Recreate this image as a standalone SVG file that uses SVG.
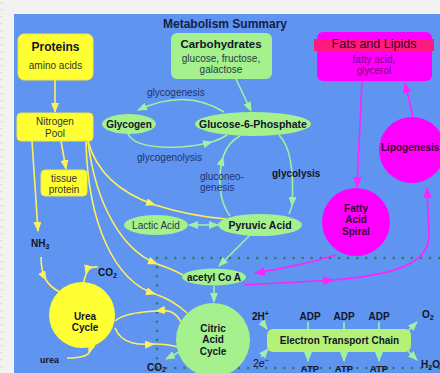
<svg xmlns="http://www.w3.org/2000/svg" width="440" height="373" viewBox="0 0 440 373">
<style>
text{font-family:"Liberation Sans",Arial,sans-serif}
.b{font-weight:bold}
.dk{fill:#141428}
.nv{fill:#22336e}
.yl{fill:none;stroke:#fff05a;stroke-width:1.6}
.gr{fill:none;stroke:#a2f0a0;stroke-width:1.6}
.mg{fill:none;stroke:#ff22ff;stroke-width:1.6}
.dot{fill:none;stroke:#2e7d52;stroke-width:2.4;stroke-dasharray:0.1 9;stroke-linecap:round}
.ybox{fill:#ffff33;stroke:#f4e840;stroke-width:1}
.gfill{fill:#a4f18e}
.mfill{fill:#ff00ff}
</style>
<defs>
<marker id="ay" viewBox="0 0 10 8" refX="9" refY="4" markerWidth="10" markerHeight="8" markerUnits="userSpaceOnUse" orient="auto-start-reverse"><path d="M0,0 L10,4 L0,8 z" fill="#fff05a"/></marker>
<marker id="ag" viewBox="0 0 10 8" refX="9" refY="4" markerWidth="10" markerHeight="8" markerUnits="userSpaceOnUse" orient="auto-start-reverse"><path d="M0,0 L10,4 L0,8 z" fill="#a2f0a0"/></marker>
<marker id="am" viewBox="0 0 10 8" refX="9" refY="4" markerWidth="11" markerHeight="9" markerUnits="userSpaceOnUse" orient="auto-start-reverse"><path d="M0,0 L10,4 L0,8 z" fill="#ff22ff"/></marker>
</defs>
<rect x="0" y="0" width="440" height="373" fill="#f2f2f2"/>
<line x1="1.5" y1="2" x2="1.5" y2="373" stroke="#bfe3bf" stroke-width="1.5" stroke-dasharray="1.5 5.5"/>
<rect x="14" y="14" width="426" height="359" fill="#5f94f0"/>
<text x="225" y="28" text-anchor="middle" class="b" font-size="12" fill="#15204a">Metabolism Summary</text>

<g id="dotted">
<path class="dot" d="M157,258 L440,258"/>
<path class="dot" d="M157,258 L157,373"/>
<path class="dot" d="M157,368 L440,368"/>
</g>

<g id="connectors">
<path class="yl" d="M55,80 L55,112" marker-end="url(#ay)"/>
<path class="yl" d="M61,141 L66,169" marker-end="url(#ay)"/>
<path class="yl" d="M32,141 L38,231" marker-end="url(#ay)"/>
<path class="yl" d="M88,141 Q100,186 155,205" marker-end="url(#ay)"/>
<path class="yl" d="M155,205 Q190,216 226,219"/>
<path class="yl" d="M88,142 C96,205 122,250 157,264" marker-end="url(#ay)"/>
<path class="yl" d="M157,264 Q172,269 183,275"/>
<path class="yl" d="M86,142 C88,225 115,281 155,294" marker-end="url(#ay)"/>
<path class="yl" d="M155,294 Q173,300 187,313"/>
<path class="yl" d="M41,257 Q41,271 46,280" marker-end="url(#ay)"/>
<path class="yl" d="M46,280 Q51,288 60,292"/>
<path class="yl" d="M98,267 Q88,266 86,274" marker-end="url(#ay)"/>
<path class="yl" d="M86,274 L83,284"/>
<path class="yl" d="M92,344 L89,353" marker-end="url(#ay)"/>
<path class="yl" d="M89,353 Q85,358 67,358"/>
<path class="yl" d="M183,326 C176,309 166,310 156,311" marker-end="url(#ay)"/>
<path class="yl" d="M156,311 C135,312 122,315 115,321"/>
<path class="yl" d="M115,328 C122,345 140,345 154,344" marker-end="url(#ay)"/>
<path class="yl" d="M154,344 Q168,344 178,347"/>

<path class="gr" d="M236,79 L251,111" marker-end="url(#ag)"/>
<path class="gr" d="M224,112 Q186,88 138,110" marker-end="url(#ag)"/>
<path class="gr" d="M128,134 C136,150 180,150 212,142" marker-end="url(#ag)"/>
<path class="gr" d="M212,142 Q221,139 227,135"/>
<path class="gr" d="M230,216 C218,200 218,175 223,157" marker-end="url(#ag)"/>
<path class="gr" d="M223,157 Q228,142 240,136"/>
<path class="gr" d="M279,135 C292,148 294,175 292,206" marker-end="url(#ag)"/>
<path class="gr" d="M292,206 L289,214"/>
<path class="gr" d="M189,225 L218,225" marker-start="url(#ag)" marker-end="url(#ag)"/>
<path class="gr" d="M250,235 L219,266" marker-end="url(#ag)"/>
<path class="gr" d="M214,286 L214,302" marker-end="url(#ag)"/>
<path class="gr" d="M183,350 L166,359" marker-end="url(#ag)"/>
<path class="gr" d="M261,321 L267,329" marker-end="url(#ag)"/>
<path class="gr" d="M261,357 L268,349" marker-end="url(#ag)"/>
<path class="gr" d="M308,322 L308,330 M344,322 L344,330 M379,322 L379,330"/>
<path class="gr" d="M308,352 L308,361" marker-end="url(#ag)"/>
<path class="gr" d="M344,352 L344,361" marker-end="url(#ag)"/>
<path class="gr" d="M379,352 L379,361" marker-end="url(#ag)"/>
<path class="gr" d="M408,331 L417,322" marker-end="url(#ag)"/>
<path class="gr" d="M408,351 L417,360" marker-end="url(#ag)"/>

<path class="mg" d="M362,81 L357,187" marker-end="url(#am)"/>
<path class="mg" d="M413,117 L405,83" marker-end="url(#am)"/>
<path class="mg" d="M336,255 Q300,266 255,273" marker-end="url(#am)"/>
<path class="mg" d="M244,285 L333,280" marker-end="url(#am)"/>
<path class="mg" d="M333,280 C380,276 430,268 429,235 L427,188" marker-end="url(#am)"/>
</g>

<g id="proteins">
<rect class="ybox" x="18" y="34" width="75" height="46" rx="6"/>
<text x="55.5" y="51" text-anchor="middle" class="b dk" font-size="12">Proteins</text>
<text x="55.5" y="69" text-anchor="middle" font-size="10" fill="#333">amino acids</text>
</g>
<g id="nitrogen-pool">
<rect class="ybox" x="17" y="113" width="76" height="28" rx="4"/>
<text x="55" y="125" text-anchor="middle" font-size="10" fill="#333">Nitrogen</text>
<text x="55" y="137" text-anchor="middle" font-size="10" fill="#333">Pool</text>
</g>
<g id="tissue-protein">
<rect class="ybox" x="41" y="170" width="46" height="26" rx="4"/>
<text x="64" y="182" text-anchor="middle" font-size="10" fill="#333">tissue</text>
<text x="64" y="193" text-anchor="middle" font-size="10" fill="#333">protein</text>
</g>
<g id="nh3"><text x="31" y="247" class="b dk" font-size="10">NH<tspan font-size="7" dy="2">3</tspan></text></g>
<g id="carbohydrates">
<rect class="gfill" x="171" y="33" width="101" height="46" rx="6"/>
<text x="221" y="48" text-anchor="middle" class="b dk" font-size="11.5">Carbohydrates</text>
<text x="221" y="62" text-anchor="middle" font-size="10" fill="#2a3a40">glucose, fructose,</text>
<text x="221" y="73" text-anchor="middle" font-size="10" fill="#2a3a40">galactose</text>
</g>
<g id="fats">
<rect class="mfill" x="317" y="32" width="115" height="49" rx="6"/>
<rect x="314" y="39" width="120" height="12" fill="#ff1a80"/>
<text x="374" y="48" text-anchor="middle" font-size="12.5" fill="#3a0030">Fats and Lipids</text>
<text x="374" y="63" text-anchor="middle" font-size="10" fill="#7a0a7a">fatty acid,</text>
<text x="374" y="74" text-anchor="middle" font-size="10" fill="#7a0a7a">glycerol</text>
</g>
<g id="glycogen">
<ellipse class="gfill" cx="129" cy="124" rx="27" ry="10"/>
<text x="129" y="128" text-anchor="middle" class="b dk" font-size="10">Glycogen</text>
</g>
<g id="g6p">
<ellipse class="gfill" cx="253" cy="124" rx="58" ry="12"/>
<text x="253" y="128" text-anchor="middle" class="b dk" font-size="10.5">Glucose-6-Phosphate</text>
</g>
<g id="labels">
<text x="147" y="96" font-size="10" class="nv">glycogenesis</text>
<text x="137" y="161" font-size="10" class="nv">glycogenolysis</text>
<text x="200" y="180" font-size="10" class="nv">gluconeo-</text>
<text x="200" y="191" font-size="10" class="nv">genesis</text>
<text x="272" y="177" font-size="10" class="b dk">glycolysis</text>
</g>
<g id="lactic">
<ellipse class="gfill" cx="156" cy="225" rx="32" ry="10"/>
<text x="156" y="229" text-anchor="middle" font-size="10" fill="#2a3a40">Lactic Acid</text>
</g>
<g id="pyruvic">
<ellipse class="gfill" cx="260" cy="225" rx="42" ry="11"/>
<text x="260" y="229" text-anchor="middle" class="b dk" font-size="10.5">Pyruvic Acid</text>
</g>
<g id="lipogenesis">
<circle class="mfill" cx="412" cy="150" r="33"/>
<text x="381" y="151" class="b" font-size="10" fill="#3a0030">Lipogenesis</text>
</g>
<g id="fatty-acid-spiral">
<circle class="mfill" cx="356" cy="222" r="34"/>
<text x="356" y="212" text-anchor="middle" class="b" font-size="10" fill="#3a0030">Fatty</text>
<text x="356" y="223" text-anchor="middle" class="b" font-size="10" fill="#3a0030">Acid</text>
<text x="356" y="235" text-anchor="middle" class="b" font-size="10" fill="#3a0030">Spiral</text>
</g>
<g id="acetyl">
<ellipse class="gfill" cx="214" cy="277" rx="32" ry="8.5"/>
<text x="214" y="281" text-anchor="middle" class="b dk" font-size="10">acetyl Co A</text>
</g>
<g id="citric">
<circle class="gfill" cx="213" cy="340" r="37"/>
<text x="213" y="332" text-anchor="middle" class="b dk" font-size="10">Citric</text>
<text x="213" y="343" text-anchor="middle" class="b dk" font-size="10">Acid</text>
<text x="213" y="355" text-anchor="middle" class="b dk" font-size="10">Cycle</text>
</g>
<g id="urea-cycle">
<circle cx="82" cy="315" r="33" fill="#ffff33"/>
<text x="85" y="320" text-anchor="middle" class="b dk" font-size="10">Urea</text>
<text x="85" y="331" text-anchor="middle" class="b dk" font-size="10">Cycle</text>
</g>
<g id="co2-urea"><text x="98" y="276" class="b dk" font-size="10">CO<tspan font-size="7" dy="2">2</tspan></text></g>
<g id="urea"><text x="40" y="363" class="b dk" font-size="9">urea</text></g>
<g id="co2-citric"><text x="147" y="371" class="b dk" font-size="10">CO<tspan font-size="7" dy="1">2</tspan></text></g>
<g id="h2"><text x="252" y="320" class="b dk" font-size="10">2H<tspan font-size="7" dy="-4">+</tspan></text></g>
<g id="e2"><text x="253" y="367" class="dk" font-size="10.5">2<tspan font-style="italic">e</tspan><tspan font-size="7" dy="-4">−</tspan></text></g>
<g id="etc">
<rect x="267" y="329" width="144" height="23" rx="6" fill="#b4f277"/>
<text x="339.5" y="344" text-anchor="middle" class="b dk" font-size="10">Electron Transport Chain</text>
</g>
<g id="adp-atp">
<text x="310" y="320" text-anchor="middle" class="b dk" font-size="10">ADP</text>
<text x="344" y="320" text-anchor="middle" class="b dk" font-size="10">ADP</text>
<text x="379" y="320" text-anchor="middle" class="b dk" font-size="10">ADP</text>
<text x="310" y="371.5" text-anchor="middle" class="b dk" font-size="9.5">ATP</text>
<text x="344" y="371.5" text-anchor="middle" class="b dk" font-size="9.5">ATP</text>
<text x="379" y="371.5" text-anchor="middle" class="b dk" font-size="9.5">ATP</text>
</g>
<g id="o2"><text x="422" y="318" class="b dk" font-size="10">O<tspan font-size="7" dy="2">2</tspan></text></g>
<g id="h2o"><text x="421" y="368" class="b dk" font-size="10">H<tspan font-size="7" dy="2">2</tspan><tspan dy="-2">O</tspan></text></g>
</svg>
